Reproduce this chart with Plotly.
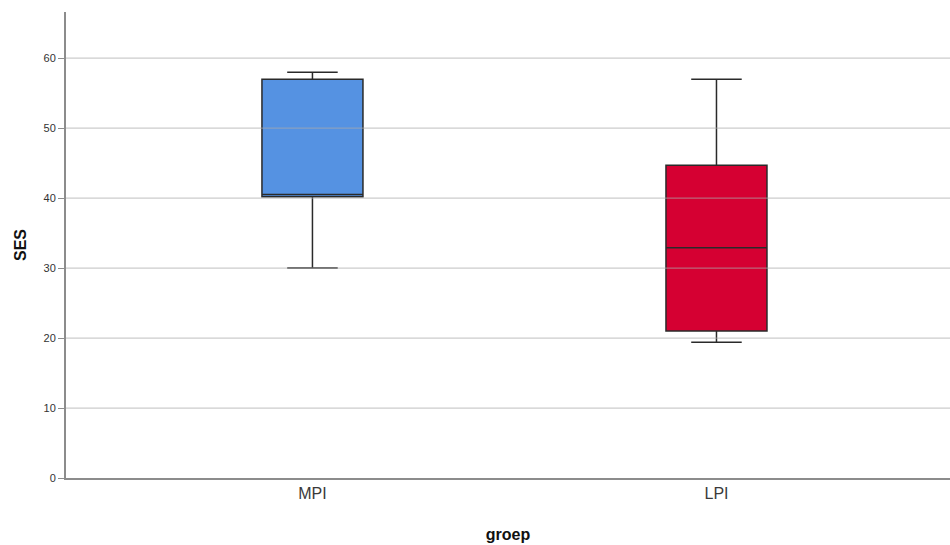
import plotly.graph_objects as go

groups = ["MPI", "LPI"]
lower_whisker = [30.0, 19.4]
q1_vals = [40.2, 21.0]
median_vals = [40.5, 32.9]
q3_vals = [57.0, 44.7]
upper_whisker = [58.0, 57.0]
colors = ["#5592e2", "#d50032"]
y_ticks = [0, 10, 20, 30, 40, 50, 60]

fig = go.Figure()
for i, g in enumerate(groups):
    fig.add_trace(go.Box(
        x=[g], q1=[q1_vals[i]], median=[median_vals[i]], q3=[q3_vals[i]],
        lowerfence=[lower_whisker[i]], upperfence=[upper_whisker[i]],
        fillcolor=colors[i], line=dict(color="#2a2a2a", width=1.5),
        width=0.25, whiskerwidth=0.5, boxpoints=False, showlegend=False,
        hoverinfo="skip",
    ))

shapes = []
for t in y_ticks[1:]:
    shapes.append(dict(type="line", xref="paper", yref="y", x0=0, x1=1, y0=t, y1=t,
                       line=dict(color="rgba(170,170,170,0.6)", width=1.3), layer="above"))

fig.update_layout(
    width=950, height=545,
    margin=dict(l=66, r=0, t=12, b=67),
    paper_bgcolor="white", plot_bgcolor="white",
    font=dict(family="Liberation Sans, Arial, sans-serif", color="#333"),
    shapes=shapes,
    xaxis=dict(
        type="category", categoryorder="array", categoryarray=groups,
        range=[-0.61, 1.578], showgrid=False, zeroline=False,
        showline=True, linecolor="#8c8c8c", linewidth=2,
        ticks="", tickfont=dict(size=16, color="#3a3a3a"),
        title=dict(text="<b>groep</b>", font=dict(size=16, color="#111"), standoff=28),
    ),
    yaxis=dict(
        range=[0, 66.6], tickvals=y_ticks, showgrid=False, zeroline=False,
        showline=True, linecolor="#8c8c8c", linewidth=2,
        ticks="outside", ticklen=6, tickcolor="#8c8c8c", tickwidth=1,
        tickfont=dict(size=11, color="#333"),
        title=dict(text="<b>SES</b>", font=dict(size=16, color="#111"), standoff=13),
    ),
)

fig.write_html("out.html")
